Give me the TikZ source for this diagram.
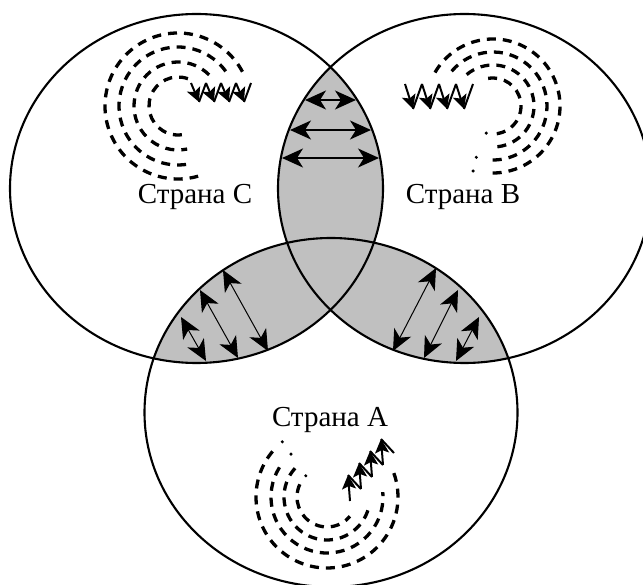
\documentclass[tikz,border=0pt]{standalone}
\usepackage{fontspec}
\setmainfont{Liberation Serif}
\usetikzlibrary{arrows.meta}
\definecolor{lens}{RGB}{192,192,192}
\begin{document}
\begin{tikzpicture}[x=1pt,y=-1pt,
  ring/.style={line width=2.1pt},
  headtip/.tip={Stealth[length=21pt,width=19pt,inset=6pt]},
  dblt/.style={line width=1.5pt,headtip-headtip},
  dbll/.style={line width=1pt,headtip-headtip},
  sdash/.style={line width=3.3pt,dash pattern=on 9pt off 7pt},
  zz/.style={line width=2pt,-{Stealth[length=14pt,width=14pt,inset=3pt]}},
  zzl/.style={line width=2pt},
  lbl/.style={font=\fontsize{29}{32}\selectfont,inner sep=0pt}
]
\useasboundingbox (0,0) rectangle (643,585);
\clip (0,0) rectangle (643,585);
% shaded pairwise overlaps
\begin{scope}
  \clip (196.5,188.5) ellipse [x radius=186.5,y radius=174.5];
  \fill[lens] (464.5,188.5) ellipse [x radius=186.5,y radius=174.5];
  \fill[lens] (331,412.5) ellipse [x radius=186.5,y radius=174.5];
\end{scope}
\begin{scope}
  \clip (464.5,188.5) ellipse [x radius=186.5,y radius=174.5];
  \fill[lens] (331,412.5) ellipse [x radius=186.5,y radius=174.5];
\end{scope}
% arrows in the top lens
\coordinate (t1a) at (305,100); \coordinate (t1b) at (356,100);
\coordinate (t2a) at (290,130); \coordinate (t2b) at (371,130);
\coordinate (t3a) at (282,158); \coordinate (t3b) at (379,158);
\draw[dblt] (t1a) -- (t1b);
\draw[dblt] (t2a) -- (t2b);
\draw[dblt] (t3a) -- (t3b);
% arrows in the left lens
\coordinate (l1a) at (223,270); \coordinate (l1b) at (268,351);
\coordinate (l2a) at (200,290); \coordinate (l2b) at (238,358);
\coordinate (l3a) at (181,317); \coordinate (l3b) at (206,361);
\draw[dbll] (l1a) -- (l1b);
\draw[dbll] (l2a) -- (l2b);
\draw[dbll] (l3a) -- (l3b);
% arrows in the right lens
\coordinate (r1a) at (436,268); \coordinate (r1b) at (393,351);
\coordinate (r2a) at (458,290); \coordinate (r2b) at (424,358);
\coordinate (r3a) at (479,317); \coordinate (r3b) at (456,361);
\draw[dbll] (r1a) -- (r1b);
\draw[dbll] (r2a) -- (r2b);
\draw[dbll] (r3a) -- (r3b);
% outlines
\draw[ring] (196.5,188.5) ellipse [x radius=186.5,y radius=174.5];
\draw[ring] (464.5,188.5) ellipse [x radius=186.5,y radius=174.5];
\draw[ring] (331,412.5) ellipse [x radius=186.5,y radius=174.5];
% spiral in country C
\draw[sdash] (178,106) ++(-70:29) arc[start angle=-70,end angle=-280,radius=29];
\draw[sdash] (178,106) ++(-45:44) arc[start angle=-45,end angle=-282,radius=44];
\draw[sdash] (178,106) ++(-36:59) arc[start angle=-36,end angle=-284,radius=59];
\draw[sdash] (178,106) ++(-28:73) arc[start angle=-28,end angle=-286,radius=73];
\foreach \i in {0,...,3} {
  \draw[zz] ({191+15*\i},83) -- ({199+15*\i},102);
  \draw[zzl] ({199+15*\i},102) -- ({206+15*\i},83);
}
% spiral in country B
\draw[sdash] (493,106) ++(-100:28) arc[start angle=-100,end angle=92,radius=28];
\draw[sdash] (493,106) ++(-130:41) arc[start angle=-130,end angle=92,radius=41];
\draw[sdash] (493,106) ++(-140:54) arc[start angle=-140,end angle=95,radius=54];
\draw[sdash] (493,106) ++(-150:67) arc[start angle=-150,end angle=95,radius=67];
\fill (493,106) ++(104:28) circle (1.7);
\fill (493,106) ++(108:54) circle (1.7);
\fill (493,106) ++(107:68) circle (1.7);
\foreach \i in {0,...,3} {
  \draw[zz] ({405+17*\i},84) -- ({413+17*\i},109);
  \draw[zzl] ({413+17*\i},109) -- ({422+17*\i},84);
}
% spiral in country A
\draw[sdash] (327,497) ++(-140:71) arc[start angle=-140,end angle=-380,radius=71];
\draw[sdash] (327,497) ++(-148:56) arc[start angle=-148,end angle=-365,radius=56];
\draw[sdash] (327,497) ++(-138:43) arc[start angle=-138,end angle=-350,radius=43];
\draw[sdash] (327,497) ++(-155:30) arc[start angle=-155,end angle=-320,radius=30];
\fill (327,497) ++(-129:71) circle (1.7);
\fill (327,497) ++(-130:56) circle (1.7);
\fill (327,497) ++(-135:30) circle (1.7);
\foreach \i in {0,...,3} {
  \draw[zz] ({350+11*\i},{501-12*\i}) -- ({348+11*\i},{475-12*\i});
  \draw[zzl] ({348+11*\i},{475-12*\i}) -- ({361+11*\i},{489-12*\i});
}
% labels
\node[lbl] (lc) at (195,197) {Страна C};
\node[lbl] (lb) at (463,197) {Страна B};
\node[lbl] (la) at (330,420) {Страна A};
\end{tikzpicture}
\end{document}
